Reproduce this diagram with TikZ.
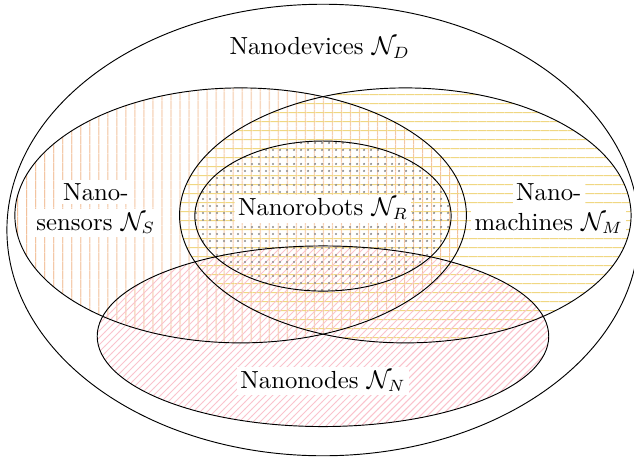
\documentclass[tikz,border=0pt]{standalone}
\usetikzlibrary{patterns,patterns.meta}
\definecolor{sensorcol}{RGB}{242,190,150}
\definecolor{machinecol}{RGB}{240,215,130}
\definecolor{nodecol}{RGB}{250,195,205}
\begin{document}
\begin{tikzpicture}[
  lbl/.style={fill=white,inner sep=1.5pt,anchor=base,font=\fontsize{10.6}{12.7}\selectfont}]
\useasboundingbox (-4.864,-3.434) rectangle (4.684,3.464);
% pattern fills
\fill[pattern={Lines[angle=90,distance=4pt,line width=0.4pt]},pattern color=sensorcol] (-1.24,0.22) ellipse (3.40 and 1.92);
\fill[pattern={Lines[angle=0,distance=4pt,line width=0.4pt]},pattern color=machinecol] (1.24,0.22) ellipse (3.40 and 1.92);
\fill[pattern=north east lines,pattern color=nodecol] (0,-1.60) ellipse (3.40 and 1.36);
\fill[pattern=dots,pattern color=gray!90] (0,0.21) ellipse (1.93 and 1.13);
% outlines
\draw (0,0) ellipse (4.76 and 3.40);
\draw (-1.24,0.22) ellipse (3.40 and 1.92);
\draw (1.24,0.22) ellipse (3.40 and 1.92);
\draw (0,-1.60) ellipse (3.40 and 1.36);
\draw (0,0.21) ellipse (1.93 and 1.13);
% labels
\node[lbl] (dev) at (-0.05,2.646) {Nanodevices $\mathcal{N}_D$};
\node[lbl] (sensA) at (-3.42,0.441) {Nano-};
\node[lbl] (sensB) at (-3.42,0) {sensors $\mathcal{N}_S$};
\node[lbl] (rob) at (0,0.211) {Nanorobots $\mathcal{N}_R$};
\node[lbl] (machA) at (3.40,0.441) {Nano-};
\node[lbl] (machB) at (3.40,0) {machines $\mathcal{N}_M$};
\node[lbl] (nodes) at (0,-2.38) {Nanonodes $\mathcal{N}_N$};
\end{tikzpicture}
\end{document}
